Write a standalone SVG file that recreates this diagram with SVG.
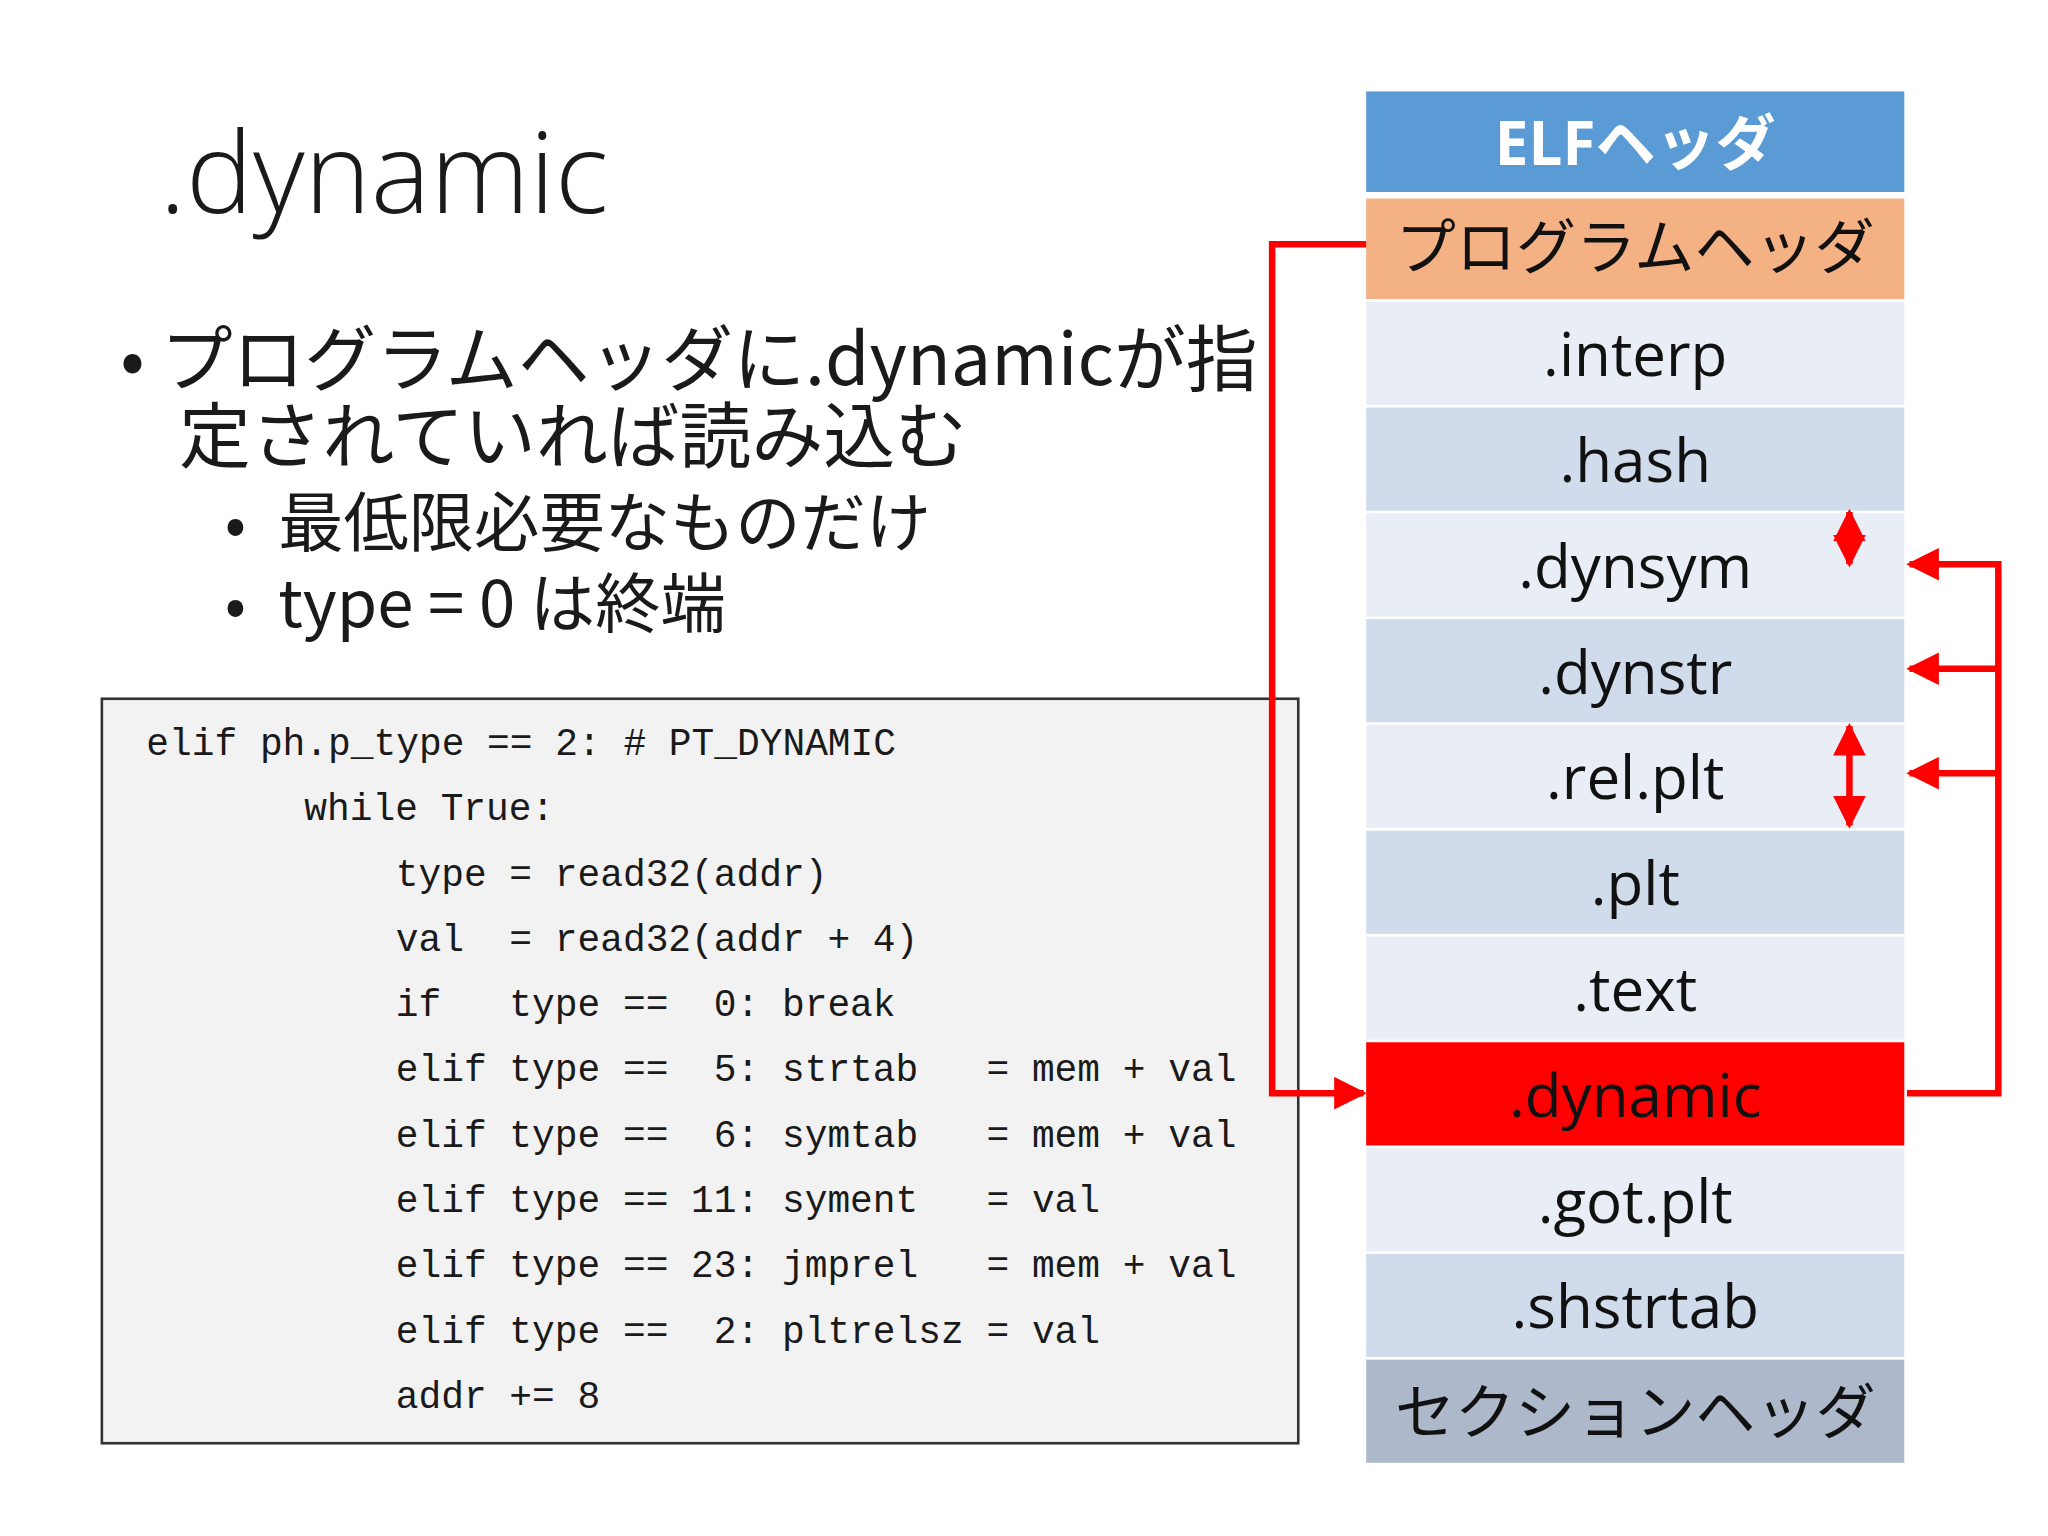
<svg xmlns="http://www.w3.org/2000/svg" width="2048" height="1536" viewBox="0 0 2048 1536">
<defs>
<style>
.t{font-family:"Open Sans","Noto Sans CJK JP",sans-serif;fill:#1a1a1a}
.j{font-family:"Noto Sans CJK JP",sans-serif;fill:#1a1a1a}
.c{font-family:"Liberation Mono","Noto Sans CJK JP",monospace;font-size:29px;fill:#1a1a1a;white-space:pre}
.r{font-family:"Open Sans","Noto Sans CJK JP",sans-serif;font-size:46px;text-anchor:middle;fill:#111}
.ln{stroke:#ff0000;stroke-width:5;fill:none}
</style>
<marker id="ah" viewBox="0 0 10 10" refX="9" refY="5" markerWidth="5" markerHeight="5" orient="auto-start-reverse"><path d="M0,0L10,5L0,10z" fill="#ff0000"/></marker>
</defs>
<rect width="2048" height="1536" fill="#fff"/>
<g transform="scale(1.3061)">
<text class="t" x="122" y="163" font-size="86" font-weight="300">.dynamic</text>
<g id="bullets">
<text class="j" x="92" y="295" font-size="55">• プログラムヘッダに.dynamicが指</text>
<text class="j" x="137" y="354" font-size="55">定されていれば読み込む</text>
<text class="j" x="172" y="418" font-size="48">•</text>
<text class="j" x="213" y="418" font-size="50">最低限必要なものだけ</text>
<text class="j" x="172" y="480" font-size="48">•</text>
<text class="j" x="213" y="480" font-size="50">type = 0 は終端</text>
</g>
<g id="code">
<rect x="78" y="535" width="916" height="570" fill="#f2f2f2" stroke="#333" stroke-width="2"/>
<text class="c" x="112" y="578">elif ph.p_type == 2: # PT_DYNAMIC</text>
<text class="c" x="233" y="628">while True:</text>
<text class="c" x="303" y="678">type = read32(addr)</text>
<text class="c" x="303" y="728">val  = read32(addr + 4)</text>
<text class="c" x="303" y="778">if   type ==  0: break</text>
<text class="c" x="303" y="828">elif type ==  5: strtab   = mem + val</text>
<text class="c" x="303" y="878">elif type ==  6: symtab   = mem + val</text>
<text class="c" x="303" y="928">elif type == 11: syment   = val</text>
<text class="c" x="303" y="978">elif type == 23: jmprel   = mem + val</text>
<text class="c" x="303" y="1028">elif type ==  2: pltrelsz = val</text>
<text class="c" x="303" y="1078">addr += 8</text>
</g>
<g id="elf"><rect x="1046" y="70" width="412" height="77" fill="#5b9bd5"/><text class="r" x="1252" y="126" style="fill:#fff" font-weight="bold">ELFヘッダ</text></g>
<g id="ph"><rect x="1046" y="152" width="412" height="77" fill="#f4b183"/><text class="r" x="1252" y="206">プログラムヘッダ</text></g>
<g id="interp"><rect x="1046" y="231" width="412" height="79" fill="#e9eef6"/><text class="r" x="1252" y="288">.interp</text></g>
<g id="hash"><rect x="1046" y="312" width="412" height="79" fill="#d0dcec"/><text class="r" x="1252" y="369">.hash</text></g>
<g id="dynsym"><rect x="1046" y="393" width="412" height="79" fill="#e9eef6"/><text class="r" x="1252" y="450">.dynsym</text></g>
<g id="dynstr"><rect x="1046" y="474" width="412" height="79" fill="#d0dcec"/><text class="r" x="1252" y="531">.dynstr</text></g>
<g id="relplt"><rect x="1046" y="555" width="412" height="79" fill="#e9eef6"/><text class="r" x="1252" y="612">.rel.plt</text></g>
<g id="plt"><rect x="1046" y="636" width="412" height="79" fill="#d0dcec"/><text class="r" x="1252" y="693">.plt</text></g>
<g id="text"><rect x="1046" y="717" width="412" height="79" fill="#e9eef6"/><text class="r" x="1252" y="774">.text</text></g>
<g id="dynamic"><rect x="1046" y="798" width="412" height="79" fill="#ff0000"/><text class="r" x="1252" y="855">.dynamic</text></g>
<g id="gotplt"><rect x="1046" y="879" width="412" height="79" fill="#e9eef6"/><text class="r" x="1252" y="936">.got.plt</text></g>
<g id="shstrtab"><rect x="1046" y="960" width="412" height="79" fill="#d0dcec"/><text class="r" x="1252" y="1017">.shstrtab</text></g>
<g id="sh"><rect x="1046" y="1041" width="412" height="79" fill="#adb9ca"/><text class="r" x="1252" y="1098">セクションヘッダ</text></g>
<g id="connectors">
<path class="ln" d="M1046,187H974V837H1044" marker-end="url(#ah)"/>
<path class="ln" d="M1460,837H1530V432H1462" marker-end="url(#ah)"/>
<path class="ln" d="M1530,512H1462" marker-end="url(#ah)"/>
<path class="ln" d="M1530,592H1462" marker-end="url(#ah)"/>
<path class="ln" d="M1416,392V432" marker-start="url(#ah)" marker-end="url(#ah)"/>
<path class="ln" d="M1416,556V632" marker-start="url(#ah)" marker-end="url(#ah)"/>
</g>
</g>
</svg>
